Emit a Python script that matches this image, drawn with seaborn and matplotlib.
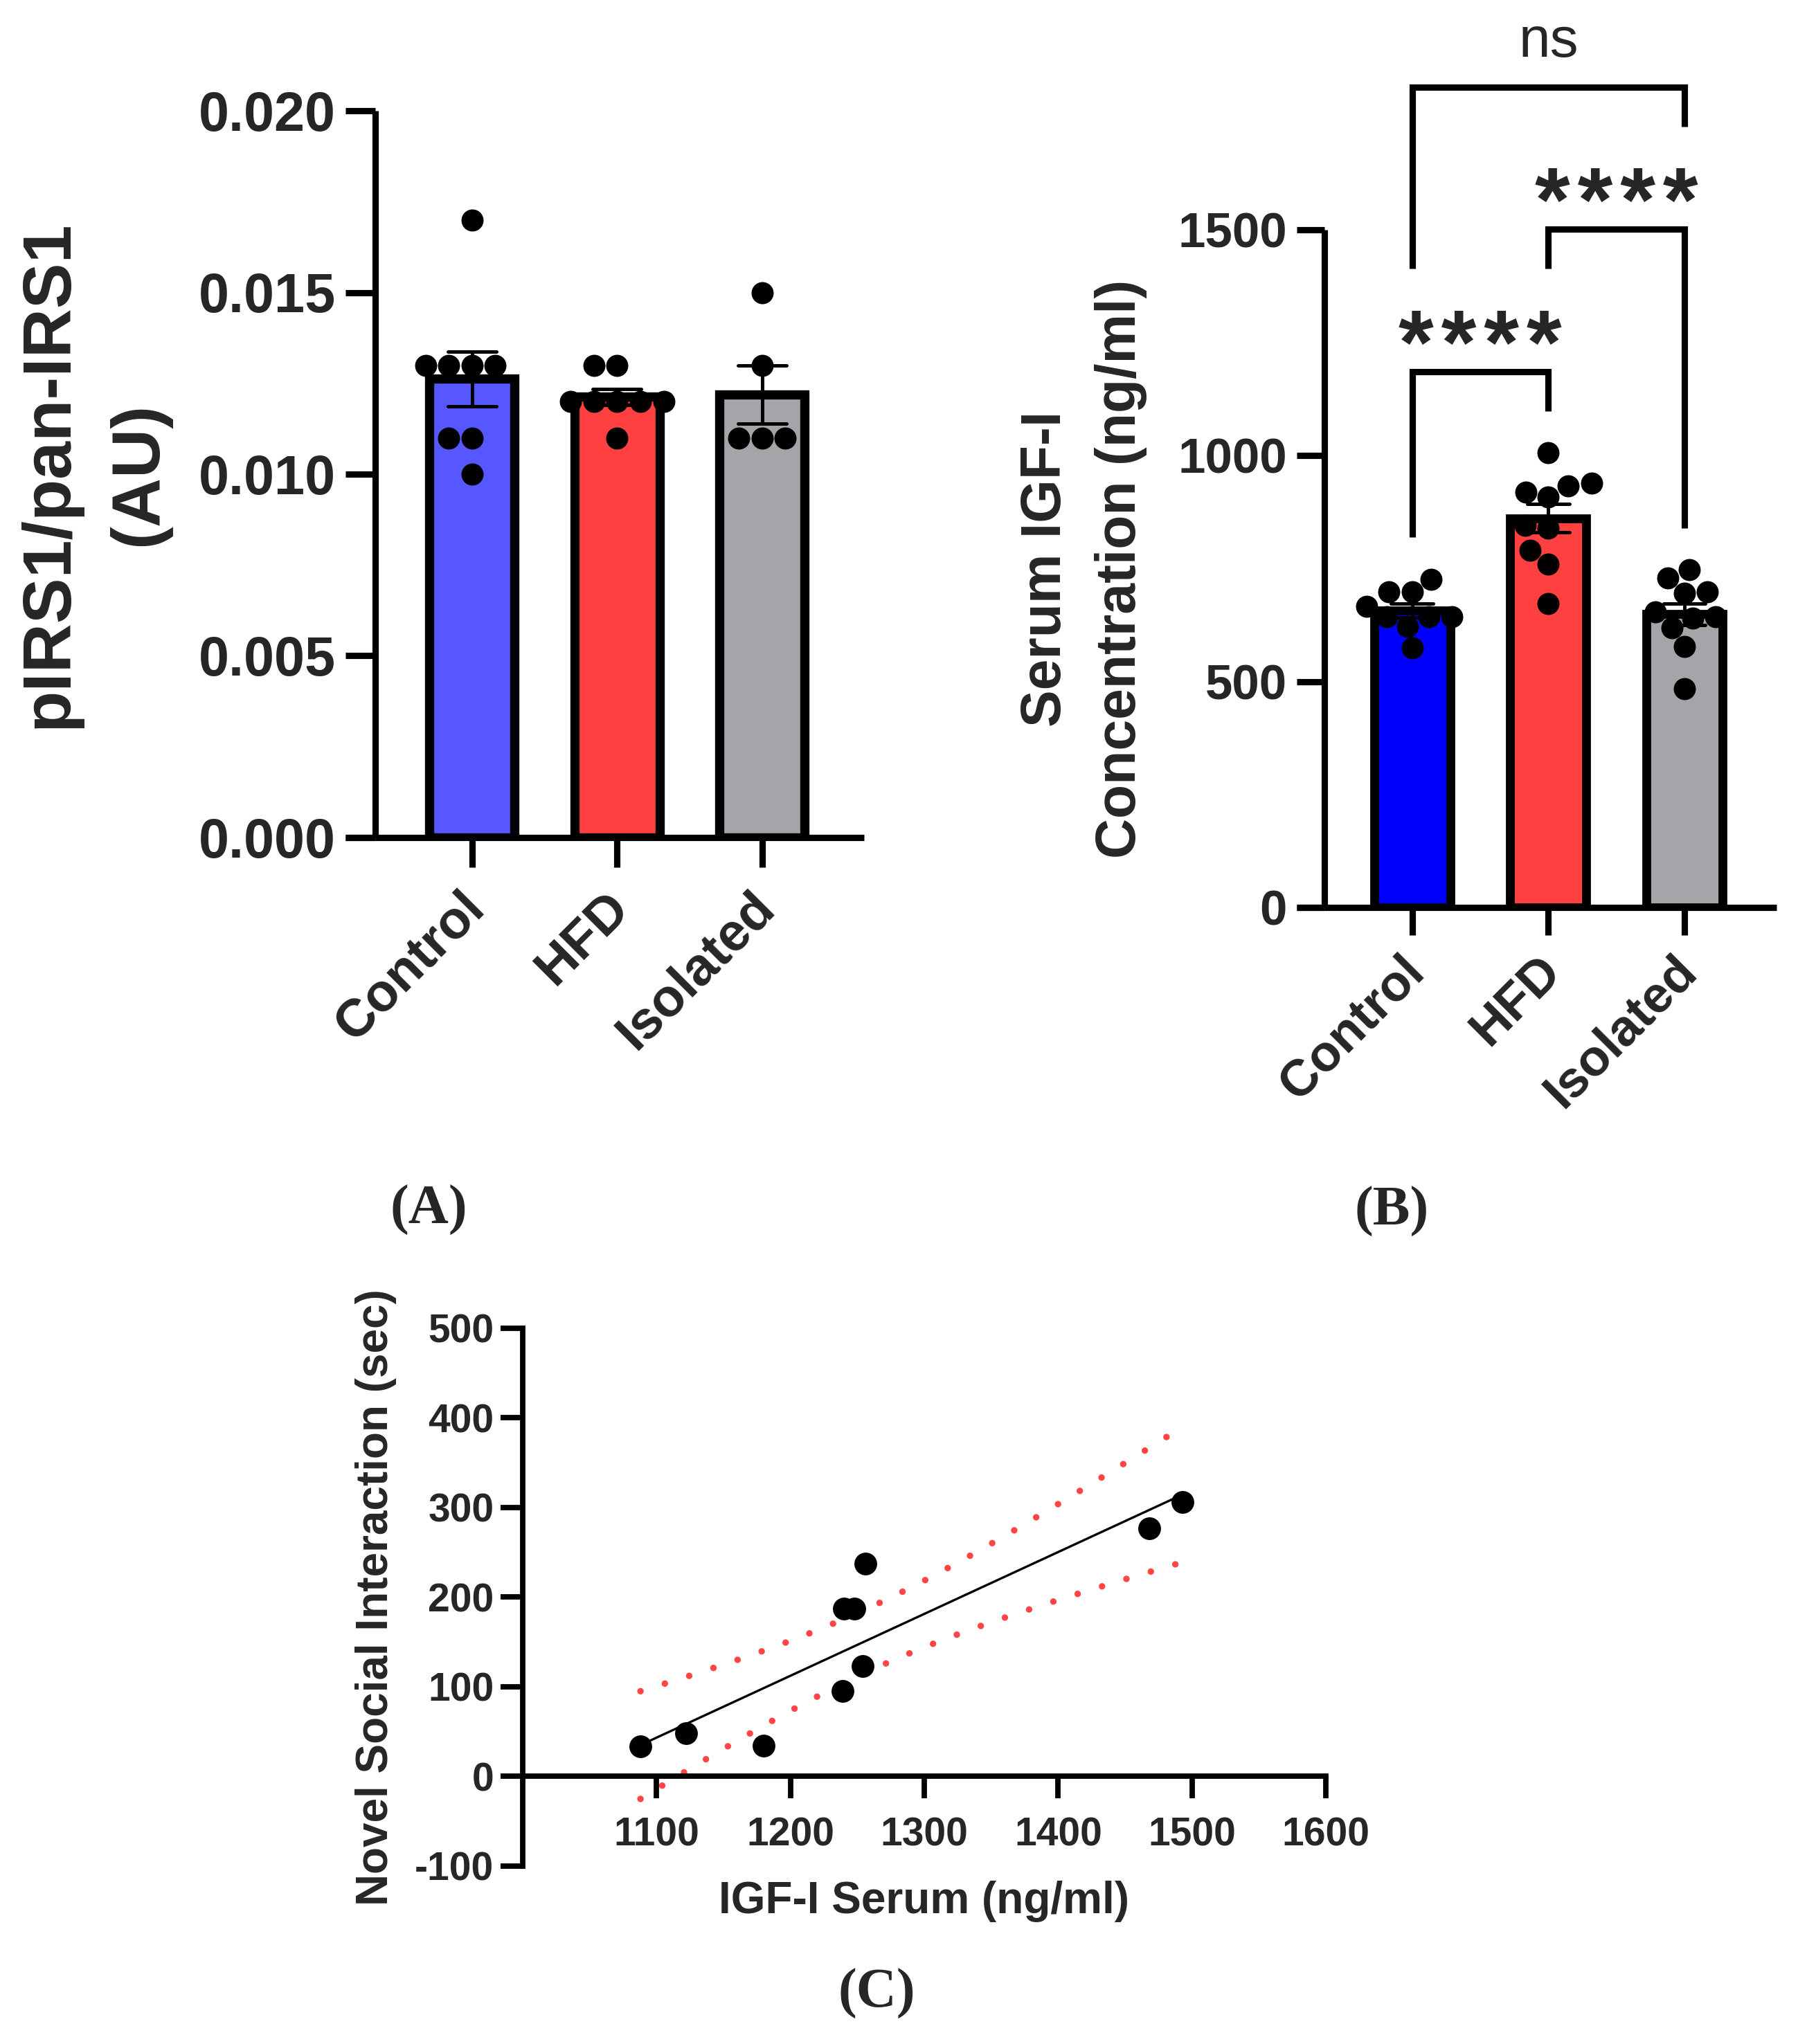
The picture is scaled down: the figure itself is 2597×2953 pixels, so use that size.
import numpy as np
import pandas as pd
import matplotlib
matplotlib.use("Agg")
import matplotlib.pyplot as plt
import matplotlib.transforms as mtransforms
import seaborn as sns

# ---------------- data ----------------
groups = ["Control", "HFD", "Isolated"]

# Panel A: pIRS1/pan-IRS1 (AU)
a_control = [0.017, 0.013, 0.013, 0.013, 0.013, 0.011, 0.011, 0.010]
a_hfd = [0.013, 0.013, 0.012, 0.012, 0.012, 0.012, 0.012, 0.011]
a_isolated = [0.015, 0.013, 0.011, 0.011, 0.011]
a_yticks = [0.000, 0.005, 0.010, 0.015, 0.020]
a_colors = ["#5757FF", "#FF4040", "#A5A5A9"]

# Panel B: serum IGF-I (ng/ml)
b_control = [667, 699, 698, 727, 643, 643, 622, 644, 574]
b_hfd = [1007, 933, 939, 919, 908, 846, 839, 791, 760, 672]
b_isolated = [699, 729, 747, 695, 654, 644, 640, 619, 578, 484]
b_yticks = [0, 500, 1000, 1500]
b_colors = ["#0000FF", "#FF4040", "#A5A5A9"]
# significance brackets: (group 1, group 2, bracket level, leg end 1, leg end 2, label)
b_brackets = [
    ("Control", "Isolated", 1815, 1414, 1728, "ns"),
    ("HFD", "Isolated", 1501, 1414, 840, "****"),
    ("Control", "HFD", 1186, 819, 1098, "****"),
]

# Panel C: correlation
c_igf = [1088, 1122, 1180, 1239, 1240, 1248, 1256, 1254, 1468, 1493]
c_social = [33, 48, 34, 95, 187, 187, 237, 123, 277, 306]
c_xticks = [1100, 1200, 1300, 1400, 1500, 1600]
c_yticks = [-100, 0, 100, 200, 300, 400, 500]
T_975_DF8 = 2.306  # Student t quantile for 95% band, n-2 = 8

# ---------------- style ----------------
sns.set_theme(style="ticks")
plt.rcParams["font.family"] = ["Liberation Sans", "DejaVu Sans"]
plt.rcParams["axes.unicode_minus"] = False

W, H = 2597, 2953
DPI = 200
fig = plt.figure(figsize=(W / DPI, H / DPI), dpi=DPI)
fig.patch.set_facecolor("white")


def frac_axes(left, top, right, bottom):
    return fig.add_axes([left / W, 1 - bottom / H, (right - left) / W, (bottom - top) / H])


def long_df(values_by_group):
    rows = []
    for g, vals in zip(groups, values_by_group):
        for v in vals:
            rows.append((g, v))
    return pd.DataFrame(rows, columns=["group", "value"])


def bar_panel(ax, df, colors, width, capsize, axis_lw, edge_lw, ylim, yticks, ylabels,
              ytick_size, xtick_size, xpad, xlim, tick_len, label_shift_px):
    sns.barplot(data=df, x="group", y="value", hue="group", order=groups, hue_order=groups,
                palette=colors, saturation=1, width=width, edgecolor="black",
                linewidth=edge_lw, errorbar="se", capsize=capsize,
                err_kws={"color": "black", "linewidth": 1.8}, legend=False, ax=ax)
    sns.swarmplot(data=df, x="group", y="value", order=groups, color="black", size=11.5,
                  linewidth=0, ax=ax, zorder=4)
    ax.set_xlim(*xlim)
    ax.set_ylim(*ylim)
    ax.set_yticks(yticks, labels=ylabels)
    ax.set_xlabel("")
    for s in ["top", "right"]:
        ax.spines[s].set_visible(False)
    for s in ["left", "bottom"]:
        ax.spines[s].set_linewidth(axis_lw)
        ax.spines[s].set_color("black")
        ax.spines[s].set_capstyle("butt")
    ax.tick_params(axis="y", length=tick_len, width=axis_lw, color="black",
                   labelsize=ytick_size, pad=5)
    ax.tick_params(axis="x", length=tick_len, width=axis_lw, color="black",
                   labelsize=xtick_size, pad=xpad)
    for lab in ax.get_yticklabels():
        lab.set_fontweight("bold")
    shift = mtransforms.ScaledTranslation(label_shift_px / DPI, 0, fig.dpi_scale_trans)
    for lab in ax.get_xticklabels():
        lab.set_fontweight("bold")
        lab.set_rotation(45)
        lab.set_ha("right")
        lab.set_va("top")
        lab.set_rotation_mode("anchor")
        lab.set_transform(lab.get_transform() + shift)
    # x axis extends left of the y axis by the tick length
    ext = tick_len / 72 * DPI / (ax.get_position().width * W)
    ax.plot([-ext, 0], [0, 0], transform=ax.transAxes, color="black", lw=axis_lw,
            clip_on=False, solid_capstyle="butt")
    ax.set_facecolor("white")


# ---------------- Panel A ----------------
axA = frac_axes(542, 160, 1248, 1210)
dfA = long_df([a_control, a_hfd, a_isolated])
bar_panel(axA, dfA, a_colors, width=0.587, capsize=0.334, axis_lw=3.3, edge_lw=4.8,
          ylim=(0, 0.020), yticks=a_yticks, ylabels=[f"{v:.3f}" for v in a_yticks],
          ytick_size=28.5, xtick_size=27.5, xpad=8, xlim=(-0.668, 2.702), tick_len=15.5,
          label_shift_px=-18)
axA.set_ylabel("pIRS1/pan-IRS1\n(AU)", fontsize=35.5, fontweight="bold", linespacing=1.55)
axA.yaxis.set_label_coords(-0.419, 0.5)

# ---------------- Panel B ----------------
axB = frac_axes(1913, 332, 2566, 1311)
dfB = long_df([b_control, b_hfd, b_isolated])
bar_panel(axB, dfB, b_colors, width=0.56, capsize=0.31, axis_lw=3.3, edge_lw=4.6,
          ylim=(0, 1500), yticks=b_yticks, ylabels=[str(v) for v in b_yticks],
          ytick_size=25.5, xtick_size=26.5, xpad=6, xlim=(-0.646, 2.677), tick_len=14.5,
          label_shift_px=-18)
axB.set_ylabel("Serum IGF-I\nConcentration (ng/ml)", fontsize=29, fontweight="bold",
               linespacing=1.55)
axB.yaxis.set_label_coords(-0.392, 0.5)

for g1, g2, level, end1, end2, label in b_brackets:
    x1, x2 = groups.index(g1), groups.index(g2)
    axB.plot([x1, x1, x2, x2], [end1, level, level, end2], color="black", lw=3.3,
             clip_on=False, solid_joinstyle="miter", solid_capstyle="butt")
    if label == "ns":
        axB.annotate(label, xy=((x1 + x2) / 2, level), xytext=(0, 16),
                     textcoords="offset points", ha="center", va="baseline",
                     fontsize=29.5, annotation_clip=False)
    else:
        axB.annotate("\u200a".join(label), xy=((x1 + x2) / 2, level), xytext=(0, -1),
                     textcoords="offset points", ha="center", va="baseline",
                     fontsize=47, fontweight="bold", annotation_clip=False)

# ---------------- Panel C ----------------
axC = frac_axes(755, 1919, 1915, 2695.5)
cx = np.array(c_igf, dtype=float)
cy = np.array(c_social, dtype=float)
slope, intercept = np.polyfit(cx, cy, 1)
xs = np.linspace(cx.min(), cx.max(), 300)
fit = slope * xs + intercept
resid = cy - (slope * cx + intercept)
s_err = np.sqrt(np.sum(resid ** 2) / (len(cx) - 2))
sxx = np.sum((cx - cx.mean()) ** 2)
half = T_975_DF8 * s_err * np.sqrt(1 / len(cx) + (xs - cx.mean()) ** 2 / sxx)

dot_style = dict(color="#FF4545", lw=3.4, linestyle=(0, (0.001, 3.9)),
                 dash_capstyle="round")
axC.plot(xs, fit + half, **dot_style)
axC.plot(xs, fit - half, **dot_style)
axC.plot(xs, fit, color="black", lw=1.2)
sns.scatterplot(x=cx, y=cy, color="black", s=140, linewidth=0, ax=axC, zorder=4)

axC.set_xlim(1000, 1600)
axC.set_ylim(-100, 500)
axC.set_xticks(c_xticks, labels=[str(v) for v in c_xticks])
axC.set_yticks(c_yticks, labels=[str(v) for v in c_yticks])
for s in ["top", "right"]:
    axC.spines[s].set_visible(False)
axC.spines["bottom"].set_position(("data", 0))
for s in ["left", "bottom"]:
    axC.spines[s].set_linewidth(2.8)
    axC.spines[s].set_color("black")
axC.tick_params(axis="both", length=11.5, width=2.8, color="black", labelsize=20.5)
axC.tick_params(axis="y", pad=3.5)
axC.tick_params(axis="x", pad=9.5)
for lab in axC.get_xticklabels() + axC.get_yticklabels():
    lab.set_fontweight("bold")
axC.set_xlabel("IGF-I Serum (ng/ml)", fontsize=23, fontweight="bold")
axC.set_ylabel("Novel Social Interaction (sec)", fontsize=23, fontweight="bold")
axC.xaxis.set_label_coords(0.5, -0.028)
axC.yaxis.set_label_coords(-0.157, 0.5)
axC.set_facecolor("white")

# ---------------- panel letters ----------------
for txt, px, py in [("(A)", 619, 1748), ("(B)", 2010, 1750), ("(C)", 1266, 2880)]:
    fig.text(px / W, 1 - py / H, txt, ha="center", va="center", fontsize=29,
             fontweight="bold", family=["Liberation Serif", "DejaVu Serif"])

fig.savefig("out.png", dpi=DPI, facecolor="white")
